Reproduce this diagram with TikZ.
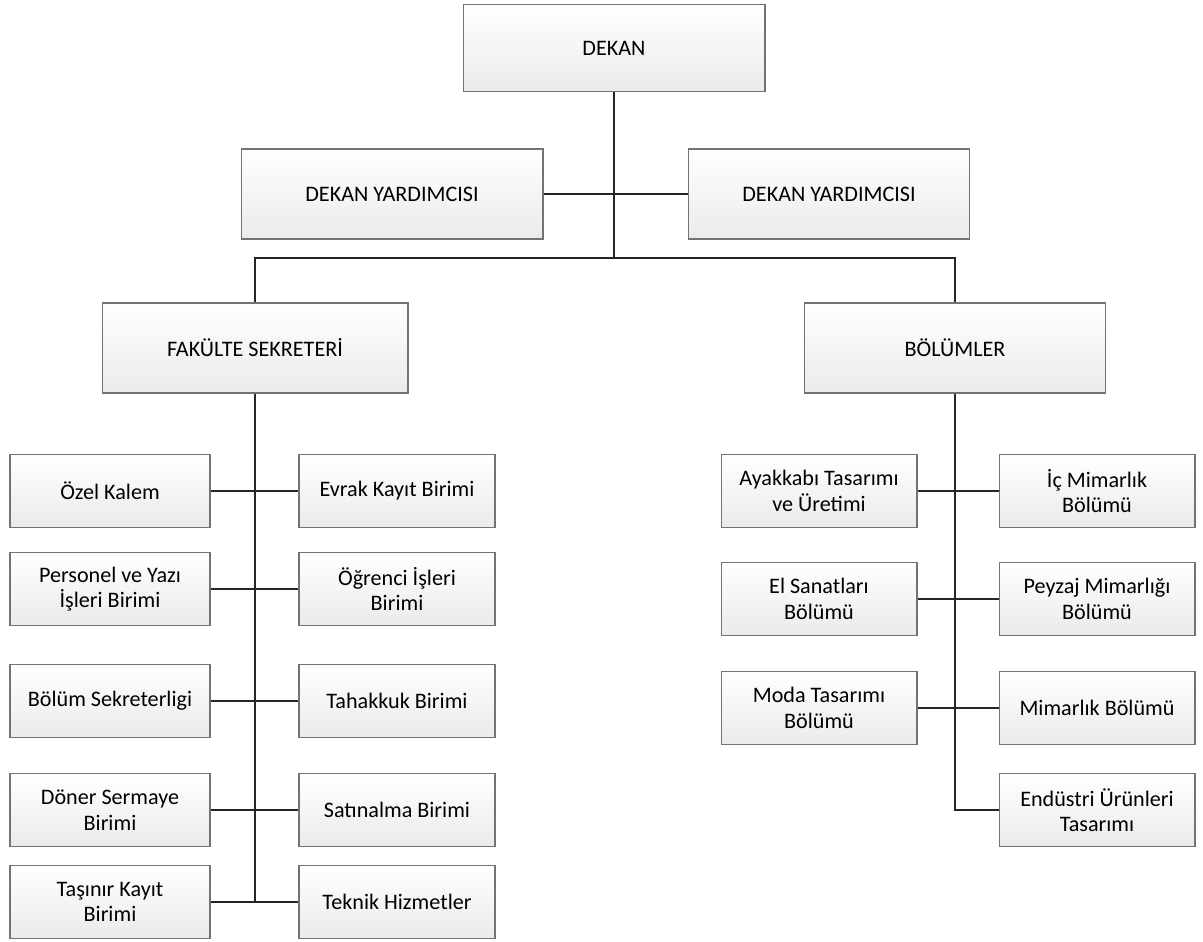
\documentclass[tikz,border=0pt]{standalone}
\usepackage{fontspec}
\setmainfont{Carlito}
\usetikzlibrary{calc,positioning}
\tikzset{>=latex}
\tikzstyle{head} = [rectangle, draw=black!55, line width=0.6pt, top color=white, bottom color=black!8, minimum height=1.8cm, text centered, font=\fontsize{12.6}{14.5}\selectfont]
\tikzstyle{unit} = [rectangle, draw=black!55, line width=0.6pt, top color=white, bottom color=black!8, minimum width=3.92cm, minimum height=1.45cm, align=center, font=\fontsize{12.6}{14.5}\selectfont]
\tikzstyle{link} = [draw=black!85, line width=0.6pt]

\begin{document}
\begin{tikzpicture}[x=0.02cm, y=-0.02cm]
      \useasboundingbox (0,0) rectangle (1203,942);
      % top levels
      \node[head, minimum width=6.04cm, minimum height=1.74cm] (dekan) at (614,48) {DEKAN};
      \node[head, minimum width=6.04cm] (yrdA) at (392,194) {DEKAN YARDIMCISI};
      \node[head, minimum width=5.62cm] (yrdB) at (829,194) {DEKAN YARDIMCISI};
      \node[head, minimum width=6.12cm] (sekreter) at (255,348) {FAKÜLTE SEKRETERİ};
      \node[head, minimum width=6.02cm] (bolumler) at (955,348) {BÖLÜMLER};
      % fakulte sekreteri units
      \node[unit, minimum width=4cm] (ozel) at (110,491) {Özel Kalem};
      \node[unit] (evrak) at (397,491) {Evrak Kayıt Birimi};
      \node[unit, minimum width=4cm] (personel) at (110,589) {Personel ve Yazı\\İşleri Birimi};
      \node[unit] (ogrenci) at (397,589) {Öğrenci İşleri\\Birimi};
      \node[unit, minimum width=4cm] (bsekreter) at (110,701) {Bölüm Sekreterligi};
      \node[unit] (tahakkuk) at (397,701) {Tahakkuk Birimi};
      \node[unit, minimum width=4cm] (doner) at (110,810) {Döner Sermaye\\Birimi};
      \node[unit] (satinalma) at (397,810) {Satınalma Birimi};
      \node[unit, minimum width=4cm] (tasinir) at (110,902) {Taşınır Kayıt\\Birimi};
      \node[unit] (teknik) at (397,902) {Teknik Hizmetler};
      % bolumler units
      \node[unit] (ayakkabi) at (819,491) {Ayakkabı Tasarımı\\ve Üretimi};
      \node[unit] (icmimar) at (1097,491) {İç Mimarlık\\Bölümü};
      \node[unit] (elsanat) at (819,599) {El Sanatları\\Bölümü};
      \node[unit] (peyzaj) at (1097,599) {Peyzaj Mimarlığı\\Bölümü};
      \node[unit] (moda) at (819,708) {Moda Tasarımı\\Bölümü};
      \node[unit] (mimarlik) at (1097,708) {Mimarlık Bölümü};
      \node[unit] (endustri) at (1097,810) {Endüstri Ürünleri\\Tasarımı};
      % connectors
      \coordinate (bus) at (614,258);
      \draw[link] (dekan.south) -- (bus);
      \draw[link] (yrdA.east) -- (yrdB.west);
      \draw[link] (sekreter.north) |- (bus) -| (bolumler.north);
      \draw[link] (sekreter.south) -- (sekreter.south |- tasinir.east);
      \draw[link] (ozel.east) -- (evrak.west);
      \draw[link] (personel.east) -- (ogrenci.west);
      \draw[link] (bsekreter.east) -- (tahakkuk.west);
      \draw[link] (doner.east) -- (satinalma.west);
      \draw[link] (tasinir.east) -- (teknik.west);
      \draw[link] (bolumler.south) |- (endustri.west);
      \draw[link] (ayakkabi.east) -- (icmimar.west);
      \draw[link] (elsanat.east) -- (peyzaj.west);
      \draw[link] (moda.east) -- (mimarlik.west);
\end{tikzpicture}
\end{document}
